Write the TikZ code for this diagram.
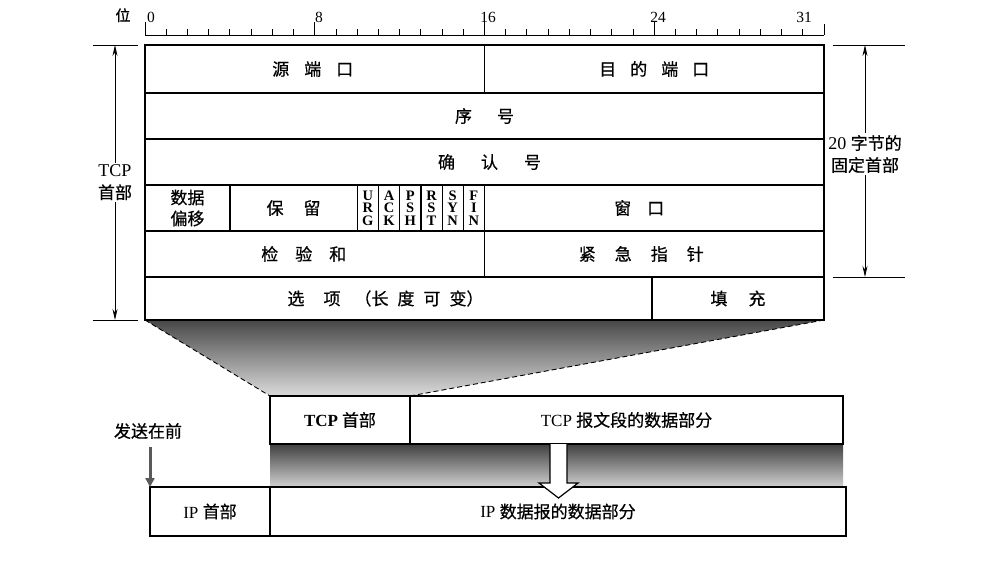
\documentclass[tikz,border=0pt]{standalone}
\usepackage{fontspec}
\setmainfont{Liberation Serif}
\newfontfamily\cjk{Noto Sans CJK SC}[FakeBold=0.6]
\usetikzlibrary{arrows.meta,backgrounds}
\newcommand\gp[1]{\hspace{#1pt}}
\newcommand\sh[1]{\hspace*{#1pt}}
\begin{document}
\begin{tikzpicture}[x=1pt,y=-1pt,
  cell/.style={draw, line width=1.2pt, inner sep=0pt, outer sep=0pt, anchor=north west,
    font=\cjk\fontsize{17}{21}\selectfont, align=center},
  flag/.style={cell, font=\bfseries\fontsize{14.5}{12.5}\selectfont, minimum width=21.22pt, minimum height=46pt},
  lbl/.style={font=\fontsize{17}{22}\selectfont, align=center, fill=white, inner sep=2pt},
  dim/.style={line width=0.9pt, {Stealth[length=11pt,width=5pt]}-{Stealth[length=11pt,width=5pt]}},
  thin/.style={line width=0.9pt},
  heavy/.style={line width=2.4pt},
  num/.style={font=\fontsize{15.5}{18}\selectfont, anchor=base, inner sep=0pt},
]
\useasboundingbox (0,0) rectangle (1007,571);

% ---- ruler ----
\draw[thin] (145,35) -- (824,35);
\foreach \i in {0,...,32}{
  \pgfmathsetmacro\xx{145+\i*21.219}
  \ifnum\i=0 \draw[thin] (\xx,35) -- (\xx,22);
  \else\ifnum\i=8 \draw[thin] (\xx,35) -- (\xx,22);
  \else\ifnum\i=16 \draw[thin] (\xx,35) -- (\xx,22);
  \else\ifnum\i=24 \draw[thin] (\xx,35) -- (\xx,22);
  \else\ifnum\i=32 \draw[thin] (\xx,35) -- (\xx,24);
  \else \draw[thin] (\xx,35) -- (\xx,29);
  \fi\fi\fi\fi\fi
}
\node[num] (b0) at (151,22) {0};
\node[num] (b8) at (319,22) {8};
\node[num] (b16) at (488,22) {16};
\node[num] (b24) at (658,22) {24};
\node[num] (b31) at (804,22) {31};
\node[font=\cjk\fontsize{15}{18}\selectfont, anchor=base, inner sep=0pt] (wei) at (123,21) {位};

% ---- TCP header table ----
\node[cell, minimum width=339.5pt, minimum height=48pt] (src) at (145,45) {\sh{-4}源\gp{15}端\gp{15}口};
\node[cell, minimum width=339.5pt, minimum height=48pt] (dst) at (484.5,45) {目\gp{14}的\gp{14}端\gp{14}口};
\node[cell, minimum width=679pt, minimum height=46pt] (seq) at (145,93) {序\gp{25}号};
\node[cell, minimum width=679pt, minimum height=46pt] (ack) at (145,139) {\sh{10}确\gp{26}认\gp{26}号};
\node[cell, minimum width=84.9pt, minimum height=46pt] (off) at (145,185) {数据\\偏移};
\node[cell, minimum width=127.3pt, minimum height=46pt] (res) at (229.9,185) {保\gp{20}留};
\node[flag] (urg) at (357.2,185) {U\\R\\G};
\node[flag] (ackf) at (378.4,185) {A\\C\\K};
\node[flag] (psh) at (399.6,185) {P\\S\\H};
\node[flag] (rst) at (420.9,185) {R\\S\\T};
\node[flag] (syn) at (442.1,185) {S\\Y\\N};
\node[flag] (fin) at (463.3,185) {F\\I\\N};
\node[cell, minimum width=339.5pt, minimum height=46pt] (win) at (484.5,185) {\sh{-30}窗\gp{16}口};
\node[cell, minimum width=339.5pt, minimum height=46pt] (chk) at (145,231) {\sh{-22}检\gp{17}验\gp{17}和};
\node[cell, minimum width=339.5pt, minimum height=46pt] (urp) at (484.5,231) {\sh{-26}紧\gp{19}急\gp{19}指\gp{19}针};
\node[cell, minimum width=507pt, minimum height=43pt] (opt) at (145,277) {\sh{-26}选\gp{19}项\gp{14}（长\gp{9}度\gp{9}可\gp{9}变）};
\node[cell, minimum width=172pt, minimum height=43pt] (pad) at (652,277) {填\gp{21}充};
\draw[heavy] (src.north west) rectangle (pad.south east);

% ---- dimension marks ----
\coordinate (lt) at (115,45);
\coordinate (lb) at (115,320);
\draw[thin] (93,45) -- (138,45);
\draw[thin] (93,320) -- (138,320);
\draw[dim] (lt) -- (lb) node[lbl, pos=0.5] (tcph) {\fontsize{18}{22}\selectfont TCP\\{\cjk 首部}};

\coordinate (rt) at (865,45);
\coordinate (rb) at (865,277);
\draw[thin] (833,45) -- (905,45);
\draw[thin] (833,277) -- (905,277);
\draw[dim] (rt) -- (rb) node[lbl, pos=0.47] (fix) {\fontsize{18}{22}\selectfont 20 {\cjk\fontsize{17}{22}\selectfont 字节的}\\{\cjk 固定首部}};

% ---- TCP segment ----
\node[cell, minimum width=140pt, minimum height=48pt] (seghdr) at (270,396) {{\rmfamily\bfseries TCP} {\cjk 首部}};
\node[cell, minimum width=433pt, minimum height=48pt] (segdata) at (410,396) {\rmfamily TCP {\cjk 报文段的数据部分}};
\draw[heavy] (seghdr.north west) rectangle (segdata.south east);

% ---- IP datagram ----
\node[cell, minimum width=120pt, minimum height=49pt] (iphdr) at (150,487) {\rmfamily IP {\cjk 首部}};
\node[cell, minimum width=576pt, minimum height=49pt] (ipdata) at (270,487) {\rmfamily IP {\cjk 数据报的数据部分}};
\draw[heavy] (iphdr.north west) rectangle (ipdata.south east);

% ---- shadings ----
\begin{scope}[on background layer]
  \shade[top color=black!72, bottom color=black!14]
    (opt.south west) -- (pad.south east) -- (seghdr.north east) -- (seghdr.north west) -- cycle;
  \shade[top color=black!75, bottom color=black!18]
    (seghdr.south west) rectangle (segdata.south east |- ipdata.north east);
\end{scope}
\draw[thin, dashed, dash pattern=on 5pt off 3pt] (opt.south west) -- (seghdr.north west);
\draw[thin, dashed, dash pattern=on 5pt off 3pt] (pad.south east) -- (seghdr.north east);

% ---- white down arrow ----
\coordinate (wa) at (558.5,444);
\draw[line width=1.2pt, fill=white, line join=miter]
  (wa) ++(-8.5,0) -- ++(0,39) -- ++(-11,0) -- ++(19.5,15) -- ++(19.5,-15) -- ++(-11,0) -- ++(0,-39);

% ---- send first ----
\node[font=\cjk\fontsize{17}{21}\selectfont, inner sep=0pt] (send) at (148,431) {发送在前};
\coordinate (sendtop) at (150,447);
\draw[line width=3pt, black!65, -{Triangle[length=9pt,width=9pt]}] (sendtop) -- (sendtop |- iphdr.north west);
\end{tikzpicture}
\end{document}
